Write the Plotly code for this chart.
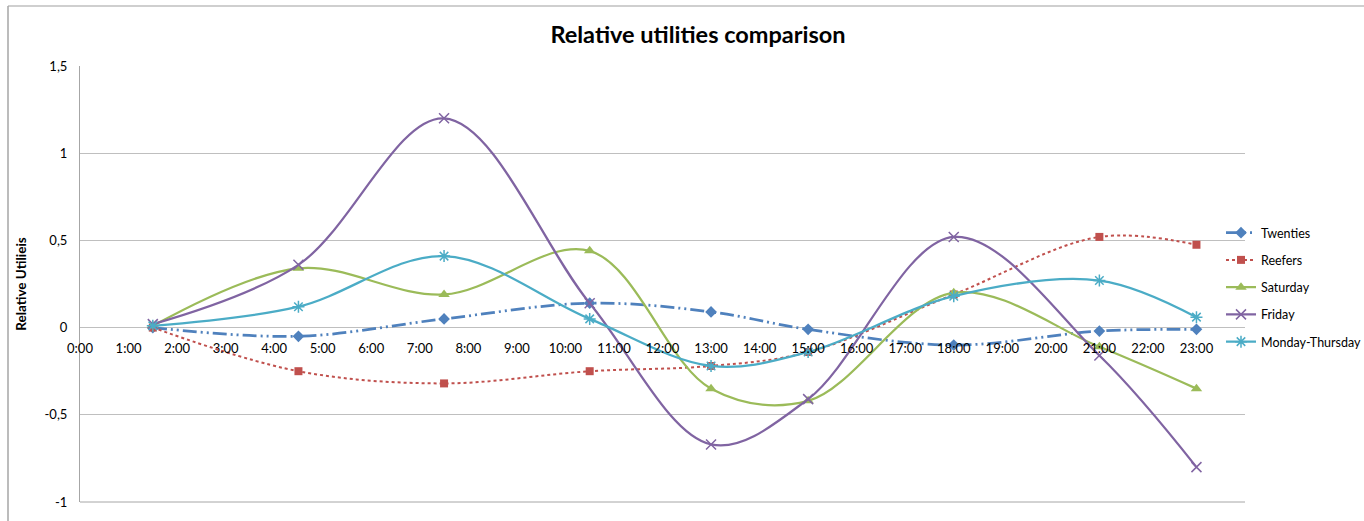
import plotly.graph_objects as go

hours = [1.5, 4.5, 7.5, 10.5, 13, 15, 18, 21, 23]
twenties = [0.0, -0.05, 0.05, 0.14, 0.09, -0.01, -0.10, -0.02, -0.01]
reefers = [0.0, -0.25, -0.32, -0.25, -0.22, -0.14, 0.19, 0.52, 0.475]
saturday = [0.01, 0.34, 0.19, 0.44, -0.35, -0.42, 0.20, -0.11, -0.35]
friday = [0.02, 0.36, 1.20, 0.14, -0.67, -0.41, 0.52, -0.16, -0.80]
mon_thu = [0.01, 0.12, 0.41, 0.05, -0.22, -0.14, 0.18, 0.27, 0.06]

x_tickvals = list(range(24))
x_ticktext = [f"{h}:00" for h in range(24)]
y_tickvals = [-1, -0.5, 0, 0.5, 1, 1.5]
y_ticktext = ["-1", "-0,5", "0", "0,5", "1", "1,5"]

FONT = "Lato"
fig = go.Figure()

series = [
    ("Twenties", twenties, "#4F81BD", dict(dash="14px,4px,2px,4px,2px,4px", width=2.75), dict(symbol="diamond", size=9)),
    ("Reefers", reefers, "#C0504D", dict(dash="dot", width=2), dict(symbol="square", size=8)),
    ("Saturday", saturday, "#9BBB59", dict(dash="solid", width=2.25), dict(symbol="triangle-up", size=10)),
    ("Friday", friday, "#8064A2", dict(dash="solid", width=2.25), dict(symbol="x-thin-open", size=10, line=dict(width=1.5, color="#8064A2"))),
    ("Monday-Thursday", mon_thu, "#4BACC6", dict(dash="solid", width=2.25), dict(symbol="asterisk-open", size=10, line=dict(width=1.5, color="#4BACC6"))),
]
for name, vals, col, ln, mk in series:
    fig.add_trace(go.Scatter(
        x=hours, y=vals, name=name, mode="lines+markers", legendgroup=name,
        line=dict(color=col, shape="spline", smoothing=1.0, **ln),
        marker=dict(color=col, **mk),
    ))

L, R, T, B = 80, 1245, 66, 502
W, H = 1364, 521
PW, PH = R - L, B - T
fig.update_layout(
    width=W, height=H,
    margin=dict(l=L, r=W - R, t=T, b=H - B, autoexpand=False),
    paper_bgcolor="white", plot_bgcolor="white",
    font=dict(family=FONT, size=13, color="#333333"),
    title=dict(text="<b>Relative utilities comparison</b>", x=698 / W, xanchor="center",
               y=1 - 35 / H, yanchor="middle", font=dict(size=23.5, color="#000000", family=FONT)),
    showlegend=True,
    legend=dict(xref="container", yref="container", x=1221 / W, xanchor="left",
                y=1 - 218 / H, yanchor="top",
                font=dict(size=12.5, color="#000000", family=FONT), tracegroupgap=8,
                itemwidth=30, bgcolor="rgba(0,0,0,0)"),
    xaxis=dict(range=[0, 24], tickvals=x_tickvals, ticktext=x_ticktext, showgrid=False,
               zeroline=False, showline=False, ticks="", anchor="free", position=0.4,
               ticklabelstandoff=11,
               tickfont=dict(size=13, color="#000000", family=FONT)),
    yaxis=dict(range=[-1, 1.5], tickvals=y_tickvals, ticktext=y_ticktext, showgrid=True,
               gridcolor="#BFBFBF", gridwidth=1, zeroline=False, showline=True,
               linecolor="#A6A6A6", linewidth=1, ticks="", ticklabelstandoff=9,
               tickfont=dict(size=13, color="#000000", family=FONT),
               title=dict(text="<b>Relative Utilieis</b>", standoff=14,
                          font=dict(size=13.5, color="#000000", family=FONT))),
    shapes=[
        dict(type="line", xref="paper", yref="paper", x0=0, x1=1, y0=0, y1=0,
             line=dict(color="#A6A6A6", width=1)),
        dict(type="line", xref="paper", yref="paper", x0=(8 - L) / PW, x1=(1380 - L) / PW,
             y0=(B - 6) / PH, y1=(B - 6) / PH, line=dict(color="#BFBFBF", width=1.5)),
        dict(type="line", xref="paper", yref="paper", x0=(8 - L) / PW, x1=(8 - L) / PW,
             y0=(B - 6) / PH, y1=(B - 540) / PH, line=dict(color="#A6A6A6", width=1.5)),
    ],
)

fig.write_html(
    "out.html",
    config={"displayModeBar": False},
    post_script="document.body.style.margin='0';document.body.style.overflow='hidden';",
)
